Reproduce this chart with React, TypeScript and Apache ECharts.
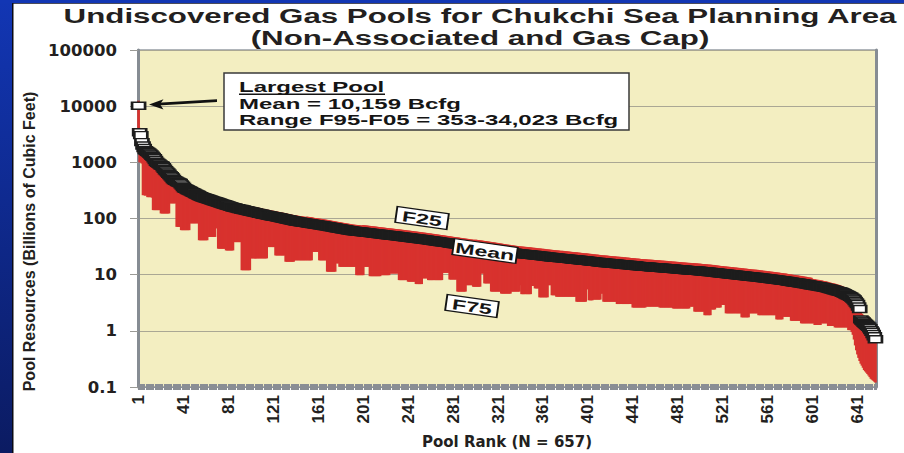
import React, { useEffect, useRef } from "react";
import * as echarts from "echarts";

// ---- data ----
const POOL_COUNT = 657;
const categories: string[] = Array.from({ length: POOL_COUNT }, (_, i) => String(i + 1));

const meanValues: number[] = [
  10159, 3440, 3050, 2290, 2000, 1800, 1650, 1600, 1550, 1490,
  1440, 1380, 1310, 1250, 1180, 1100, 1020, 980, 950, 920,
  890, 867, 820, 770, 726, 690, 660, 625, 592, 565,
  535, 505, 482, 470, 458, 447, 437, 427, 405, 385,
  365, 347, 339, 331, 323, 315, 308, 301, 294, 287,
  280, 274, 267, 261, 255, 249, 243, 239, 236, 232,
  229, 225, 222, 218, 215, 212, 208, 205, 202, 199,
  196, 193, 190, 187, 184, 182, 179, 176, 174, 171,
  168, 166, 164, 161, 159, 157, 155, 153, 152, 150,
  148, 147, 145, 144, 142, 141, 139, 138, 136, 135,
  133, 132, 130, 129, 128, 126, 125, 124, 122, 121,
  120, 118, 117, 116, 115, 114, 113, 112, 111, 110,
  109, 108, 107, 106, 105, 104, 103, 102, 101, 100,
  99, 98, 97, 96, 95, 94, 93, 92, 91, 90.5,
  89.5, 88.8, 88, 87.3, 86.6, 86, 85.4, 84.8, 84.2, 83.6,
  83, 82.4, 81.8, 81.2, 80.6, 80, 79.4, 78.8, 78.2, 77.6,
  77, 76.5, 76, 75.5, 75, 74.4, 73.8, 73.2, 72.6, 72,
  71.4, 70.8, 70.2, 69.6, 69, 68.4, 67.8, 67.3, 66.7, 66.2,
  65.6, 65.1, 64.5, 64, 63.5, 63, 62.5, 62, 61.5, 61,
  60.5, 60, 59.7, 59.4, 59.1, 58.8, 58.5, 58.2, 57.9, 57.6,
  57.3, 57, 56.7, 56.4, 56.1, 55.8, 55.5, 55.2, 54.9, 54.6,
  54.3, 54, 53.7, 53.4, 53.1, 52.8, 52.5, 52.2, 51.9, 51.6,
  51.3, 51, 50.7, 50.5, 50.2, 49.9, 49.7, 49.4, 49.1, 48.9,
  48.6, 48.3, 48.1, 47.8, 47.5, 47.3, 47, 46.7, 46.5, 46.2,
  45.9, 45.7, 45.4, 45.1, 44.9, 44.6, 44.3, 44.1, 43.8, 43.5,
  43.3, 43, 42.7, 42.5, 42.2, 42, 41.7, 41.4, 41.2, 40.9,
  40.7, 40.4, 40.1, 39.9, 39.6, 39.4, 39.1, 38.8, 38.6, 38.3,
  38.1, 37.8, 37.6, 37.3, 37, 36.8, 36.5, 36.3, 36, 35.8,
  35.5, 35.3, 35.1, 34.8, 34.6, 34.4, 34.1, 33.9, 33.7, 33.5,
  33.2, 33, 32.8, 32.6, 32.4, 32.1, 31.9, 31.7, 31.5, 31.3,
  31.1, 30.9, 30.7, 30.5, 30.3, 30.1, 29.9, 29.7, 29.5, 29.3,
  29.1, 28.9, 28.7, 28.5, 28.3, 28.1, 27.9, 27.7, 27.5, 27.3,
  27.1, 26.9, 26.7, 26.5, 26.3, 26.1, 25.9, 25.7, 25.5, 25.3,
  25.2, 25, 24.8, 24.7, 24.5, 24.3, 24.2, 24, 23.9, 23.7,
  23.6, 23.5, 23.4, 23.3, 23.2, 23.1, 23, 22.9, 22.8, 22.7,
  22.5, 22.4, 22.3, 22.2, 22.1, 21.9, 21.8, 21.7, 21.6, 21.5,
  21.4, 21.3, 21.2, 21, 20.9, 20.8, 20.7, 20.6, 20.5, 20.4,
  20.3, 20.2, 20.1, 20, 19.9, 19.8, 19.7, 19.7, 19.6, 19.5,
  19.4, 19.3, 19.2, 19.1, 19, 18.9, 18.8, 18.7, 18.7, 18.6,
  18.5, 18.4, 18.3, 18.2, 18.1, 18, 17.9, 17.8, 17.8, 17.7,
  17.6, 17.5, 17.4, 17.3, 17.2, 17.1, 17, 16.9, 16.9, 16.8,
  16.7, 16.6, 16.5, 16.4, 16.4, 16.3, 16.2, 16.2, 16.1, 16,
  15.9, 15.9, 15.8, 15.7, 15.7, 15.6, 15.5, 15.5, 15.4, 15.3,
  15.3, 15.2, 15.1, 15.1, 15, 14.9, 14.9, 14.8, 14.7, 14.7,
  14.6, 14.5, 14.5, 14.4, 14.3, 14.3, 14.2, 14.1, 14.1, 14,
  14, 13.9, 13.9, 13.8, 13.8, 13.7, 13.7, 13.6, 13.6, 13.5,
  13.5, 13.45, 13.4, 13.35, 13.3, 13.25, 13.2, 13.15, 13.1, 13.05,
  13, 12.95, 12.9, 12.85, 12.8, 12.75, 12.7, 12.65, 12.6, 12.55,
  12.5, 12.45, 12.4, 12.35, 12.3, 12.25, 12.2, 12.15, 12.1, 12.05,
  12, 12, 11.95, 11.9, 11.9, 11.85, 11.8, 11.75, 11.7, 11.65,
  11.6, 11.55, 11.5, 11.45, 11.4, 11.35, 11.3, 11.25, 11.2, 11.15,
  11.1, 11.05, 11, 10.95, 10.9, 10.8, 10.75, 10.7, 10.6, 10.55,
  10.5, 10.45, 10.4, 10.35, 10.3, 10.25, 10.2, 10.15, 10.1, 10.05,
  10, 9.95, 9.9, 9.85, 9.8, 9.75, 9.7, 9.65, 9.6, 9.55,
  9.5, 9.45, 9.4, 9.35, 9.3, 9.25, 9.2, 9.15, 9.1, 9.08,
  9.06, 9, 8.95, 8.9, 8.85, 8.8, 8.75, 8.7, 8.65, 8.6,
  8.55, 8.5, 8.45, 8.4, 8.35, 8.3, 8.25, 8.2, 8.15, 8.1,
  8.05, 8, 7.95, 7.9, 7.85, 7.8, 7.75, 7.7, 7.65, 7.58,
  7.5, 7.45, 7.4, 7.35, 7.3, 7.25, 7.2, 7.15, 7.1, 7.05,
  7, 6.95, 6.9, 6.85, 6.8, 6.74, 6.68, 6.62, 6.56, 6.5,
  6.45, 6.4, 6.35, 6.3, 6.25, 6.2, 6.15, 6.1, 6.05, 6,
  5.94, 5.88, 5.82, 5.76, 5.7, 5.63, 5.56, 5.49, 5.42, 5.35,
  5.28, 5.2, 5.13, 5.06, 5.02, 4.95, 4.85, 4.75, 4.65, 4.55,
  4.45, 4.35, 4.25, 4.15, 4.04, 3.9, 3.75, 3.6, 3.4, 3.2,
  3, 2.7, 2.45, 1.6, 1.53, 1.46, 1.39, 1.34, 1.28, 1.23,
  1.18, 1.11, 1.03, 0.96, 0.88, 0.8, 0.71,
];

const f25Values: number[] = [
  12500, 4100, 3600, 2800, 2400, 2200, 2000, 1950, 1900, 1800,
  1750, 1700, 1600, 1500, 1450, 1350, 1250, 1200, 1150, 1100,
  1080, 1050, 1000, 950, 900, 850, 800, 760, 720, 690,
  650, 620, 590, 580, 560, 550, 535, 520, 495, 470,
  450, 430, 420, 410, 400, 390, 380, 370, 360, 350,
  345, 338, 330, 322, 315, 307, 300, 295, 291, 286,
  283, 278, 274, 269, 266, 262, 257, 253, 250, 246,
  242, 238, 235, 231, 227, 225, 221, 217, 215, 211,
  208, 205, 203, 199, 196, 194, 192, 189, 188, 185,
  183, 182, 179, 178, 175, 174, 172, 171, 168, 167,
  166, 165, 162, 161, 160, 158, 156, 155, 153, 152,
  150, 148, 147, 145, 144, 143, 142, 140, 139, 138,
  137, 136, 134, 133, 132, 131, 130, 128, 127, 126,
  125, 124, 122, 121, 120, 119, 118, 116, 115, 115,
  114, 113, 112, 111, 110, 110, 109, 108, 107, 107,
  108, 107, 106, 106, 105, 104, 103, 102, 102, 101,
  100, 99.5, 98.8, 98.2, 97.5, 96.7, 95.9, 95.2, 94.4, 93.6,
  92.8, 92, 91.3, 90.5, 89.7, 88.9, 88.1, 87.5, 86.7, 86.1,
  85.3, 84.6, 83.9, 83.2, 82.6, 81.9, 81.3, 80.6, 80, 79.3,
  78.7, 78, 77.6, 77.2, 76.8, 76.4, 76.1, 75.7, 75.3, 74.9,
  76.2, 75.8, 75.4, 75, 74.6, 74.2, 73.8, 73.4, 73, 72.6,
  72.2, 71.8, 71.4, 71, 70.6, 70.2, 69.8, 69.4, 69, 68.6,
  68.2, 67.8, 67.4, 67.2, 66.8, 66.4, 66.1, 65.7, 65.3, 65,
  64.6, 64.2, 64, 63.6, 63.2, 62.9, 62.5, 62.1, 61.8, 61.4,
  61, 60.8, 60.4, 60, 59.7, 59.3, 58.9, 58.7, 58.3, 57.9,
  57.6, 57.2, 56.8, 56.5, 56.1, 55.9, 55.5, 55.1, 54.8, 54.4,
  54.1, 53.7, 53.3, 53.1, 52.7, 52.4, 52, 51.6, 51.3, 50.9,
  50.7, 50.3, 50, 49.6, 49.2, 48.9, 48.5, 48.3, 47.9, 47.6,
  47.2, 46.9, 46.7, 46.3, 46, 45.8, 45.4, 45.1, 44.8, 44.6,
  44.2, 43.9, 43.6, 43.4, 43.1, 42.7, 42.4, 42.2, 41.9, 41.6,
  42, 41.7, 41.4, 41.2, 40.9, 40.6, 40.4, 40.1, 39.8, 39.6,
  39.3, 39, 38.7, 38.5, 38.2, 37.9, 37.7, 37.4, 37.1, 36.9,
  36.6, 36.3, 36, 35.8, 35.5, 35.2, 35, 34.7, 34.4, 34.2,
  34, 33.8, 33.5, 33.3, 33.1, 32.8, 32.7, 32.4, 32.3, 32,
  31.9, 31.7, 31.6, 31.5, 31.3, 31.2, 31.1, 30.9, 30.8, 30.6,
  30.4, 30.2, 30.1, 30, 29.8, 29.6, 29.4, 29.3, 29.2, 29,
  28.9, 28.8, 28.6, 28.4, 28.2, 28.1, 27.9, 27.8, 27.7, 27.5,
  27.4, 27.3, 27.1, 27, 26.9, 26.7, 26.6, 26.6, 26.5, 26.3,
  26.2, 26.1, 25.9, 25.8, 25.7, 25.5, 25.4, 25.2, 25.2, 25.1,
  25, 24.8, 24.7, 24.6, 24.4, 24.3, 24.2, 24, 24, 23.9,
  23.8, 23.6, 23.5, 23.4, 23.2, 23.1, 23, 22.8, 22.8, 22.7,
  22.5, 22.4, 22.3, 22.1, 22.1, 22, 21.9, 21.9, 21.7, 21.6,
  21.5, 21.5, 21.3, 21.2, 21.2, 21.1, 20.9, 20.9, 20.8, 20.7,
  20.7, 20.5, 20.4, 20.4, 20.3, 20.1, 20.1, 20, 19.8, 19.8,
  19.7, 19.6, 19.6, 19.4, 19.3, 19.3, 19.2, 19, 19, 18.9,
  18.9, 18.8, 18.8, 18.6, 18.6, 18.5, 18.5, 18.4, 18.4, 18.2,
  18.2, 18.2, 18.1, 18, 18, 17.9, 17.8, 17.8, 17.7, 17.6,
  17.6, 17.5, 17.4, 17.3, 17.3, 17.2, 17.1, 17.1, 17, 16.9,
  16.9, 16.8, 16.7, 16.7, 16.6, 16.5, 16.5, 16.4, 16.3, 16.3,
  16.2, 16.2, 16.1, 16.1, 16.1, 16, 15.9, 15.9, 15.8, 15.7,
  15.7, 15.6, 15.5, 15.5, 15.4, 15.3, 15.3, 15.2, 15.1, 15.1,
  15, 14.9, 14.9, 14.8, 14.7, 14.6, 14.5, 14.4, 14.3, 14.2,
  14.2, 14.1, 14, 14, 13.9, 13.8, 13.8, 13.7, 13.6, 13.6,
  13.5, 13.4, 13.4, 13.3, 13.2, 13.2, 13.1, 13, 13, 12.9,
  12.8, 12.8, 12.7, 12.6, 12.6, 12.5, 12.4, 12.4, 12.3, 12.3,
  12.2, 12.2, 12.1, 12, 11.9, 11.9, 11.8, 11.7, 11.7, 11.6,
  11.5, 11.5, 11.4, 11.3, 11.3, 11.2, 11.1, 11.1, 11, 10.9,
  10.9, 10.8, 10.7, 10.7, 10.6, 10.5, 10.5, 10.4, 10.3, 10.2,
  10.1, 10.1, 10, 9.9, 9.9, 9.8, 9.7, 9.7, 9.6, 9.5,
  9.5, 9.4, 9.3, 9.2, 9.2, 9.1, 9, 8.9, 8.9, 8.8,
  8.4, 8.3, 8.3, 8.2, 8.1, 8.1, 8, 7.9, 7.9, 7.8,
  7.7, 7.6, 7.6, 7.5, 7.4, 7.3, 7.2, 7.1, 7, 7,
  6.9, 6.8, 6.7, 6.6, 6.5, 6.4, 6.3, 6.2, 6, 5.9,
  5.8, 5.7, 5.5, 5.4, 5.3, 5.1, 4.9, 4.7, 4.4, 4.2,
  3.9, 3.5, 3.2, 2.1, 2, 1.9, 1.8, 1.74, 1.66, 1.6,
  1.53, 1.44, 1.34, 1.25, 1.14, 1.04, 0.92,
];

const f75Values: number[] = [
  1500, 1000, 1000, 950, 260, 260, 255, 260, 240, 240,
  240, 240, 235, 141, 141, 141, 141, 141, 141, 141,
  123, 123, 123, 123, 123, 123, 123, 123, 186, 186,
  186, 186, 186, 186, 71, 71, 71, 71, 62, 62,
  62, 62, 62, 62, 62, 62, 82, 82, 82, 82,
  82, 82, 82, 82, 41, 41, 41, 41, 41, 41,
  41, 41, 47, 47, 47, 47, 47, 47, 47, 67,
  67, 29, 29, 29, 29, 29, 29, 29, 27, 27,
  27, 27, 27, 27, 27, 38, 38, 38, 38, 38,
  38, 38, 12, 12, 12, 12, 12, 12, 12, 12,
  19.5, 19.5, 19.5, 19.5, 19.5, 19.5, 19.5, 19.5, 19.5, 19.5,
  19.5, 19.5, 19.5, 19.5, 19.5, 31, 31, 31, 31, 31,
  31, 31, 22, 22, 22, 22, 22, 22, 22, 22,
  22, 17, 17, 17, 17, 17, 17, 17, 17, 18,
  18, 18, 18, 18, 18, 18, 18, 18, 18, 18,
  18, 18, 18, 18, 18, 25.5, 25.5, 25.5, 25.5, 25.5,
  25.5, 18, 18, 18, 18, 18, 18, 18, 11.3, 11.3,
  11.3, 11.3, 11.3, 11.3, 11.3, 11.3, 15.9, 15.9, 15.9, 13.8,
  13.8, 13.8, 13.8, 13.8, 13.8, 13.8, 13.8, 13.8, 13.8, 13.8,
  13.8, 13.8, 13.8, 13.8, 9.8, 9.8, 9.8, 9.8, 9.8, 9.8,
  9.8, 13.8, 13.8, 13.8, 13.8, 13.8, 9.4, 9.4, 9.4, 9.4,
  9.4, 9.4, 9.4, 9.4, 9.4, 9.4, 9.8, 9.8, 9.8, 9.8,
  9.8, 9.8, 9.8, 9.8, 10.5, 10.5, 10.5, 10.5, 10.5, 10.5,
  10.5, 10.5, 8, 8, 8, 8, 8, 8, 8, 8,
  7.5, 7.5, 7.5, 7.5, 7.5, 7.5, 7.5, 6.8, 6.8, 6.8,
  6.8, 6.8, 6.8, 8.6, 8.6, 8.6, 8.6, 8.6, 8, 8,
  8, 8, 8, 8, 8, 8, 8, 8, 8, 8,
  8, 10.8, 10.8, 10.8, 10.8, 10.8, 10.8, 8.2, 8.2, 8.2,
  8.2, 8.2, 8.2, 8.2, 5, 5, 5, 5, 5, 5,
  5, 5, 6.5, 6.5, 6.5, 6.5, 6.5, 6.5, 6.1, 6.1,
  6.1, 6.1, 6.1, 6.1, 6.1, 10.5, 10.5, 10.5, 7, 7,
  7, 7, 7, 7, 5, 5, 5, 5, 5, 5,
  5, 5, 5, 4.6, 4.6, 4.6, 4.6, 4.6, 4.6, 4.6,
  4.6, 4.6, 5, 5, 5, 5, 5, 5, 5, 5,
  6.5, 4.5, 4.5, 4.5, 4.5, 4.5, 4.5, 4.5, 4.5, 4.5,
  6.3, 6.3, 6.3, 5.7, 5.7, 5.7, 5.7, 3.95, 3.95, 3.95,
  3.95, 3.95, 3.95, 3.95, 3.95, 6.5, 6.5, 6.5, 4.3, 4.3,
  4.3, 4.3, 4.05, 4.05, 4.05, 4.05, 4.05, 4.05, 4.05, 4.05,
  4.05, 4.05, 4.05, 4.05, 4.05, 4.05, 4.05, 4.05, 4.05, 4.05,
  3.3, 3.3, 3.3, 3.3, 3.3, 3.3, 3.3, 3.3, 3.3, 5.5,
  5.5, 3.5, 3.5, 3.5, 3.5, 3.6, 3.6, 3.6, 3.6, 3.6,
  3.6, 3.6, 4.6, 4.6, 3.3, 3.3, 3.3, 3.3, 3.3, 3.3,
  3.3, 3.3, 3.3, 3.3, 3.3, 3.3, 3, 3, 3, 3,
  3, 3, 3, 3, 3, 3, 3, 3, 3, 3,
  2.6, 2.6, 2.6, 2.6, 2.6, 2.6, 2.6, 2.6, 2.6, 2.6,
  2.6, 2.6, 2.7, 2.7, 2.7, 2.7, 2.7, 2.7, 2.7, 2.7,
  2.7, 2.7, 2.7, 2.7, 2.6, 2.6, 2.6, 2.6, 2.6, 2.6,
  2.6, 2.6, 2.6, 2.6, 2.6, 2.6, 2.5, 2.5, 2.5, 2.5,
  2.5, 2.5, 2.5, 2.5, 2.5, 2.5, 2.5, 2.5, 2.5, 2.5,
  2.5, 2.7, 2.7, 2.7, 2.7, 2.2, 2.2, 2.2, 2.2, 2.2,
  2.2, 2.2, 2.2, 2.2, 1.9, 1.9, 1.9, 1.9, 1.9, 1.9,
  2.4, 2.4, 2.4, 2.4, 2.6, 2.6, 2.6, 2.6, 2.6, 2.9,
  2.9, 2.9, 2.9, 2.05, 2.05, 2.05, 2.05, 2.05, 2.05, 2.05,
  2.05, 2.05, 2.05, 2.05, 2.05, 2.05, 2.05, 1.74, 1.74, 1.74,
  1.74, 1.74, 1.74, 1.74, 2.05, 2.05, 2.05, 2.05, 2.05, 2.05,
  2.05, 2.05, 1.9, 1.9, 1.9, 1.9, 1.9, 1.9, 1.9, 1.9,
  1.9, 1.9, 1.9, 1.9, 1.9, 1.9, 1.9, 1.9, 1.6, 1.6,
  1.6, 1.6, 1.6, 1.6, 1.78, 1.78, 1.78, 1.78, 1.78, 1.78,
  1.78, 1.51, 1.51, 1.51, 1.51, 1.51, 1.51, 1.51, 1.51, 1.51,
  1.36, 1.36, 1.36, 1.36, 1.36, 1.36, 1.36, 1.36, 1.36, 1.36,
  1.36, 1.36, 1.27, 1.27, 1.27, 1.27, 1.27, 1.27, 1.36, 1.36,
  1.36, 1.36, 1.36, 1.36, 1.22, 1.22, 1.22, 1.22, 1.22, 1.22,
  1.15, 1.15, 1.15, 1.15, 1.15, 1.15, 1.15, 1.15, 1.15, 1.15,
  1.15, 1.15, 1.03, 1.03, 1.03, 0.95, 0.85, 0.7, 0.55, 0.45,
  0.38, 0.33, 0.29, 0.26, 0.24, 0.22, 0.2, 0.19, 0.18, 0.17,
  0.16, 0.15, 0.14, 0.135, 0.13, 0.125, 0.12,
];

const yTickValues: number[] = [0.1, 1, 10, 100, 1000, 10000, 100000];

const titleLines: string[] = [
  "Undiscovered Gas Pools for Chukchi Sea Planning Area",
  "(Non-Associated and Gas Cap)",
];
const noteLines: string[] = [
  "Largest Pool",
  "Mean = 10,159 Bcfg",
  "Range F95-F05 = 353-34,023 Bcfg",
];

const SANS = "'Liberation Sans', Arial, Helvetica, sans-serif";
const WIDE = "'DejaVu Sans', Verdana, sans-serif";

function tagLabel(text: string, x: number, y: number, w: number) {
  return {
    type: "group",
    x,
    y,
    z: 100,
    rotation: -0.14,
    scaleX: 1.6,
    children: [
      {
        type: "rect",
        z: 100,
        shape: { x: -w / 2, y: -8, width: w, height: 16 },
        style: { fill: "#ffffff", stroke: "#151515", lineWidth: 1.2 },
      },
      {
        type: "text",
        z: 101,
        x: 0,
        y: 0.5,
        style: {
          text,
          fontSize: 14.5,
          fontWeight: "bold",
          fontFamily: SANS,
          fill: "#151515",
          align: "center",
          verticalAlign: "middle",
        },
      },
    ],
  };
}

export default function App() {
  const ref = useRef<HTMLDivElement>(null);

  useEffect(() => {
    if (!ref.current) return;
    const chart = echarts.init(ref.current, null, { renderer: "svg" });

    const rangeData = categories.map((_, i) => [i, f75Values[i], f25Values[i]]);

    const option: any = {
      animation: false,
      backgroundColor: "#ffffff",
      grid: {
        left: 138,
        right: 28,
        top: 50,
        bottom: 66,
        containLabel: false,
        outerBoundsMode: "none",
        show: true,
        backgroundColor: "#F3EEC1",
        borderColor: "#979da4",
        borderWidth: 1.5,
      },
      xAxis: [
        {
          type: "category",
          data: categories,
          position: "bottom",
          name: "Pool Rank (N = 657)",
          nameLocation: "middle",
          nameGap: 47,
          nameTextStyle: {
            fontFamily: WIDE,
            fontWeight: "bold",
            fontSize: 15,
            color: "#231f20",
          },
          axisLine: { show: true, lineStyle: { color: "#8c9198", width: 1 } },
          axisTick: {
            show: true,
            interval: 0,
            length: 3,
            lineStyle: { color: "#8a8e94", width: 1 },
          },
          axisLabel: {
            interval: 39,
            rotate: 90,
            margin: 8,
            fontFamily: SANS,
            fontWeight: "bold",
            fontSize: 17,
            color: "#231f20",
          },
          splitLine: { show: false },
        },
        {
          type: "category",
          data: categories,
          position: "bottom",
          axisLine: { show: false },
          axisTick: {
            show: true,
            inside: true,
            interval: 0,
            length: 3,
            lineStyle: { color: "#8a8e94", width: 1 },
          },
          axisLabel: { show: false },
          splitLine: { show: false },
        },
      ],
      yAxis: [
        {
          type: "log",
          logBase: 10,
          min: yTickValues[0],
          max: yTickValues[yTickValues.length - 1],
          name: "Pool Resources (Billions of Cubic Feet)",
          nameLocation: "middle",
          nameGap: 96,
          nameTextStyle: {
            fontFamily: SANS,
            fontWeight: "bold",
            fontSize: 16,
            color: "#231f20",
            padding: [0, 46, 0, 0],
          },
          axisLine: { show: true, lineStyle: { color: "#868c93", width: 3 } },
          axisTick: { show: true, length: 8, lineStyle: { color: "#9a9a96", width: 1 } },
          axisLabel: {
            margin: 21,
            fontFamily: WIDE,
            fontWeight: "bold",
            fontSize: 16.5,
            color: "#231f20",
            formatter: (v: number) => (v < 1 ? v.toFixed(1) : String(Math.round(v))),
          },
          splitLine: { show: true, lineStyle: { color: "#aaa794", width: 1 } },
        },
        {
          type: "log",
          logBase: 10,
          min: yTickValues[0],
          max: yTickValues[yTickValues.length - 1],
          position: "right",
          axisLine: { show: true, lineStyle: { color: "#868c93", width: 3 } },
          axisTick: { show: false },
          axisLabel: { show: false },
          splitLine: { show: false },
        },
      ],
      series: [
        {
          name: "F75-F25",
          type: "custom",
          xAxisIndex: 0,
          yAxisIndex: 0,
          z: 2,
          progressive: 0,
          encode: { x: 0, y: [1, 2] },
          data: rangeData,
          renderItem: (params: any, api: any) => {
            const idx = api.value(0);
            const lo = api.coord([idx, api.value(1)]);
            const hi = api.coord([idx, api.value(2)]);
            const w = params.coordSys.width / categories.length;
            return {
              type: "rect",
              shape: {
                x: lo[0] - w / 2 - 0.8,
                y: hi[1],
                width: w + 1.6,
                height: lo[1] - hi[1],
              },
              style: { fill: "#D8322E" },
            };
          },
        },
        {
          name: "Mean",
          type: "scatter",
          xAxisIndex: 0,
          yAxisIndex: 0,
          z: 3,
          progressive: 0,
          large: false,
          symbol: "rect",
          symbolSize: [13, 7],
          itemStyle: { color: "#ffffff", borderColor: "#1d1d1d", borderWidth: 2, opacity: 1 },
          emphasis: { disabled: true },
          data: meanValues,
        },
      ],
      graphic: [
        // slide frame
        {
          type: "rect",
          z: 100,
          shape: { x: 0, y: 0, width: 12, height: 453 },
          style: {
            fill: new echarts.graphic.LinearGradient(0, 0, 0, 1, [
              { offset: 0, color: "#1236b4" },
              { offset: 1, color: "#0b1b62" },
            ]),
          },
          silent: true,
        },
        { type: "rect", z: 100, shape: { x: 12, y: 0, width: 1.5, height: 453 }, style: { fill: "#0a0a14" }, silent: true },
        { type: "rect", z: 100, shape: { x: 0, y: 0, width: 904, height: 3 }, style: { fill: "#1236b4" }, silent: true },
        { type: "rect", z: 100, shape: { x: 12, y: 3, width: 892, height: 0.8 }, style: { fill: "#111122" }, silent: true },
        // title
        {
          type: "text",
          z: 100,
          x: 480,
          y: 16,
          scaleX: 1.49,
          style: {
            text: titleLines[0],
            fontSize: 21,
            fontWeight: "bold",
            fontFamily: SANS,
            fill: "#231f20",
            align: "center",
            verticalAlign: "middle",
          },
        },
        {
          type: "text",
          z: 100,
          x: 480,
          y: 38,
          scaleX: 1.49,
          style: {
            text: titleLines[1],
            fontSize: 21,
            fontWeight: "bold",
            fontFamily: SANS,
            fill: "#231f20",
            align: "center",
            verticalAlign: "middle",
          },
        },
        // annotation box
        {
          type: "rect",
          z: 100,
          shape: { x: 224, y: 73, width: 405, height: 57 },
          style: { fill: "#ffffff", stroke: "#3a3a3a", lineWidth: 1.5 },
        },
        ...noteLines.map((t, k) => ({
          type: "text",
          z: 101,
          x: 239,
          y: 87 + k * 16.5,
          scaleX: 1.6,
          style: {
            text: t,
            fontSize: 15,
            fontWeight: "bold",
            fontFamily: SANS,
            fill: "#151515",
            align: "left",
            verticalAlign: "middle",
          },
        })),
        { type: "rect", z: 101, shape: { x: 239, y: 93.5, width: 146, height: 1.4 }, style: { fill: "#151515" } },
        // arrow
        {
          type: "polygon",
          z: 101,
          shape: { points: [[217, 99.3], [217, 101.9], [158, 105.4], [158, 102.8]] },
          style: { fill: "#111111" },
        },
        {
          type: "polygon",
          z: 101,
          shape: { points: [[149, 104.5], [163.5, 99.2], [160, 104.2], [163.5, 109.5]] },
          style: { fill: "#111111" },
        },
        // series tags
        tagLabel("F25", 422, 218, 32.5),
        tagLabel("Mean", 485, 251, 40),
        tagLabel("F75", 472, 306, 32.5),
      ],
    };

    chart.setOption(option);
    return () => chart.dispose();
  }, []);

  return (
    <div
      ref={ref}
      style={{ position: "fixed", left: 0, top: 0, width: 904, height: 453, background: "#fff" }}
    />
  );
}
